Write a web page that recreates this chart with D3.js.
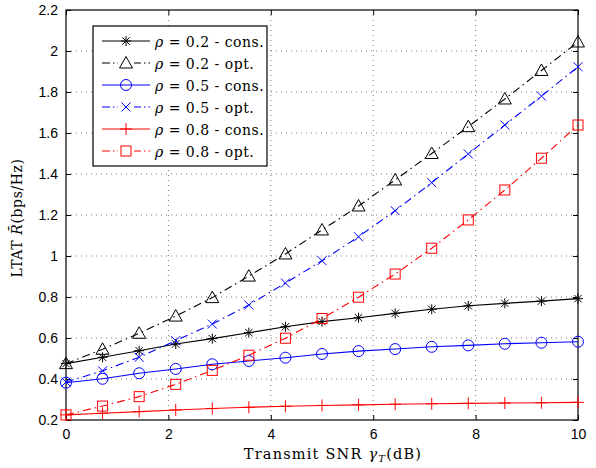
<!DOCTYPE html>
<html lang="en">
  <head>
    <meta charset="UTF-8" />
    <title>LTAT vs transmit SNR</title>
    <script src="https://d3js.org/d3.v7.min.js"></script>
    <style>
      body { margin: 0; background: #fff; }
      .tick text { font-family: "Liberation Sans", Arial, sans-serif; font-size: 14px; fill: #000; }
    </style>
  </head>
  <body>
    <svg width="596" height="468" id="chart"></svg>

    <script>
      // x positions: 15 points from 0 to 10 dB
      const snr = [0, 0.714, 1.429, 2.143, 2.857, 3.571, 4.286, 5, 5.714, 6.429, 7.143, 7.857, 8.571, 9.286, 10];

      const r02cons = [0.475, 0.506, 0.538, 0.571, 0.597, 0.626, 0.655, 0.68, 0.699, 0.72, 0.74, 0.757, 0.769, 0.78, 0.792];
      const r02opt = [0.475, 0.545, 0.623, 0.707, 0.797, 0.902, 1.01, 1.127, 1.244, 1.371, 1.5, 1.631, 1.766, 1.905, 2.044];
      const r05cons = [0.382, 0.401, 0.428, 0.449, 0.472, 0.488, 0.504, 0.522, 0.536, 0.546, 0.557, 0.564, 0.572, 0.577, 0.582];
      const r05opt = [0.385, 0.44, 0.506, 0.587, 0.668, 0.761, 0.868, 0.977, 1.094, 1.221, 1.358, 1.498, 1.639, 1.78, 1.923];
      const r08cons = [0.225, 0.233, 0.241, 0.249, 0.256, 0.262, 0.267, 0.271, 0.274, 0.277, 0.279, 0.281, 0.283, 0.284, 0.286];
      const r08opt = [0.225, 0.268, 0.314, 0.374, 0.442, 0.516, 0.599, 0.695, 0.799, 0.912, 1.038, 1.176, 1.322, 1.477, 1.639];

      const xTicks = [0, 2, 4, 6, 8, 10];
      const yTicks = [0.2, 0.4, 0.6, 0.8, 1, 1.2, 1.4, 1.6, 1.8, 2, 2.2];

      const series = [
        { name: "0.2 - cons.", values: r02cons, color: "#000", dash: null, marker: "star" },
        { name: "0.2 - opt.", values: r02opt, color: "#000", dash: "8,4,1.5,4", marker: "triangle" },
        { name: "0.5 - cons.", values: r05cons, color: "#0000ff", dash: null, marker: "circle" },
        { name: "0.5 - opt.", values: r05opt, color: "#0000ff", dash: "8,4,1.5,4", marker: "cross" },
        { name: "0.8 - cons.", values: r08cons, color: "#ff0000", dash: null, marker: "plus" },
        { name: "0.8 - opt.", values: r08opt, color: "#ff0000", dash: "8,4,1.5,4", marker: "square" },
      ];

      const svg = d3.select("#chart");
      const margin = { top: 10, right: 18, bottom: 48, left: 66 };
      const width = +svg.attr("width") - margin.left - margin.right;
      const height = +svg.attr("height") - margin.top - margin.bottom;
      const g = svg.append("g").attr("transform", "translate(" + margin.left + "," + margin.top + ")");

      const x = d3.scaleLinear().domain([0, 10]).range([0, width]);
      const y = d3.scaleLinear().domain([0.2, 2.2]).range([height, 0]);

      // dotted grid
      g.append("g")
        .selectAll("line")
        .data(xTicks.slice(1, -1))
        .join("line")
        .attr("x1", (d) => x(d)).attr("x2", (d) => x(d))
        .attr("y1", 0).attr("y2", height)
        .attr("stroke", "#555").attr("stroke-width", 0.8).attr("stroke-dasharray", "1,4");
      g.append("g")
        .selectAll("line")
        .data(yTicks.slice(1, -1))
        .join("line")
        .attr("y1", (d) => y(d)).attr("y2", (d) => y(d))
        .attr("x1", 0).attr("x2", width)
        .attr("stroke", "#555").attr("stroke-width", 0.8).attr("stroke-dasharray", "1,4");

      // axes with inward ticks on all four sides
      const ax = (gen, t) => g.append("g").attr("transform", t).call(gen).call((s) => s.select(".domain").remove());
      ax(d3.axisBottom(x).tickValues(xTicks).tickSize(-5).tickPadding(9).tickFormat(d3.format("")), "translate(0," + height + ")");
      ax(d3.axisTop(x).tickValues(xTicks).tickSize(-5).tickFormat(""), "translate(0,0)");
      ax(d3.axisLeft(y).tickValues(yTicks).tickSize(-5).tickPadding(8).tickFormat(d3.format("")), "translate(0,0)");
      ax(d3.axisRight(y).tickValues(yTicks).tickSize(-5).tickFormat(""), "translate(" + width + ",0)");

      g.append("rect")
        .attr("width", width).attr("height", height)
        .attr("fill", "none").attr("stroke", "#000").attr("stroke-width", 1.2);

      const line = d3.line().x((d, i) => x(snr[i])).y((d) => y(d));

      function drawMarker(sel, type, color) {
        sel.attr("fill", "none").attr("stroke", color).attr("stroke-width", 1);
        if (type === "circle") {
          sel.append("circle").attr("r", 5.5);
        } else if (type === "square") {
          sel.append("rect").attr("x", -5).attr("y", -5).attr("width", 10).attr("height", 10);
        } else if (type === "triangle") {
          sel.append("path").attr("d", "M0,-6.5L6.5,5L-6.5,5Z");
        } else if (type === "plus") {
          sel.append("path").attr("d", "M-6,0H6M0,-6V6");
        } else if (type === "cross") {
          sel.append("path").attr("d", "M-4.5,-4.5L4.5,4.5M-4.5,4.5L4.5,-4.5");
        } else if (type === "star") {
          sel.append("path").attr("d", "M-5,0H5M0,-5V5M-3.7,-3.7L3.7,3.7M-3.7,3.7L3.7,-3.7");
        }
      }

      const plot = g.append("g");
      series.forEach((s) => {
        plot.append("path")
          .datum(s.values)
          .attr("d", line)
          .attr("fill", "none")
          .attr("stroke", s.color)
          .attr("stroke-width", 1.1)
          .attr("stroke-dasharray", s.dash);
        plot.append("g")
          .selectAll("g")
          .data(s.values)
          .join("g")
          .attr("transform", (d, i) => "translate(" + x(snr[i]) + "," + y(d) + ")")
          .each(function () { drawMarker(d3.select(this), s.marker, s.color); });
      });

      // legend
      const lg = g.append("g").attr("transform", "translate(27,16)");
      lg.append("rect")
        .attr("width", 174).attr("height", 140)
        .attr("fill", "#fff").attr("stroke", "#000").attr("stroke-width", 1.2);
      const rows = lg.selectAll("g.row")
        .data(series)
        .join("g")
        .attr("class", "row")
        .attr("transform", (d, i) => "translate(0," + (15 + i * 22) + ")");
      rows.append("line")
        .attr("x1", 9).attr("x2", 57)
        .attr("stroke", (d) => d.color)
        .attr("stroke-width", 1.1)
        .attr("stroke-dasharray", (d) => (d.dash ? "8,3,1.5,3" : null));
      rows.append("g")
        .attr("transform", "translate(33,0)")
        .each(function (d) {
          const m = d3.select(this);
          m.append("rect").attr("x", -8).attr("y", -7).attr("width", 16).attr("height", 14).attr("fill", d.dash ? "#fff" : "none");
          drawMarker(m.append("g"), d.marker, d.color);
        });
      const txt = rows.append("text")
        .attr("x", 62).attr("y", 5.5)
        .attr("font-family", "'DejaVu Serif', serif")
        .attr("font-size", 14)
        .attr("letter-spacing", 0.5);
      txt.append("tspan").attr("font-style", "italic").text("ρ");
      txt.append("tspan").text((d) => " = " + d.name);

      // axis labels
      const xl = svg.append("text")
        .attr("x", margin.left + width / 2 + 11)
        .attr("y", 459)
        .attr("text-anchor", "middle")
        .attr("font-family", "'DejaVu Serif', serif")
        .attr("font-size", 14.5)
        .attr("letter-spacing", 1.2);
      xl.append("tspan").text("Transmit SNR ");
      xl.append("tspan").attr("font-style", "italic").text("γ");
      xl.append("tspan").attr("font-style", "italic").attr("font-size", 10).attr("dy", 3).text("T");
      xl.append("tspan").attr("dy", -3).text("(dB)");

      const yl = svg.append("text")
        .attr("transform", "translate(22," + (margin.top + 208) + ") rotate(-90)")
        .attr("text-anchor", "middle")
        .attr("font-family", "'DejaVu Serif', serif")
        .attr("font-size", 14)
        .attr("letter-spacing", 0.6);
      yl.append("tspan").text("LTAT ");
      yl.append("tspan").attr("font-style", "italic").text("R\u0304");
      yl.append("tspan").text("(bps/Hz)");
    </script>
  </body>
</html>
